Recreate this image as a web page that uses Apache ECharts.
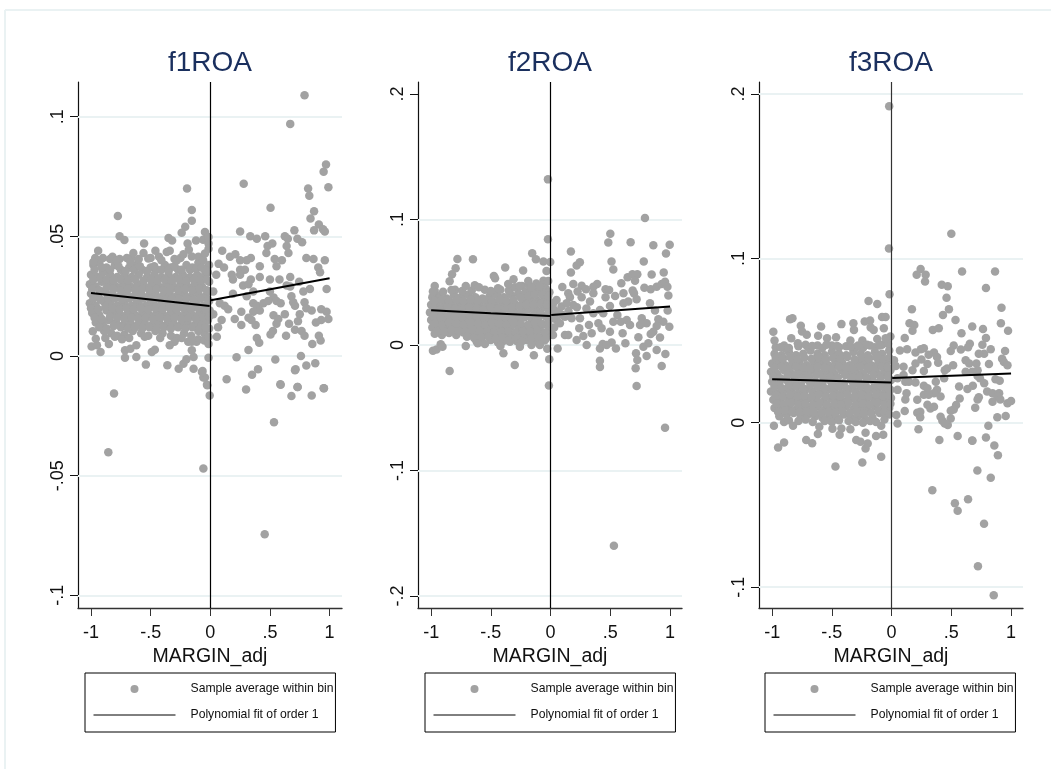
<!DOCTYPE html>
<html><head><meta charset="utf-8">
<style>html,body{margin:0;padding:0;background:#fff}#c{width:1051px;height:769px}</style>
<script src="https://cdn.jsdelivr.net/npm/echarts@6/dist/echarts.min.js"></script>
</head><body><div id="c"></div>
<script>
const titles=['f1ROA','f2ROA','f3ROA'];
const xTicks=[-1,-.5,0,.5,1];
const f1Ticks=[-.1,-.05,0,.05,.1];
const f2Ticks=[-.2,-.1,0,.1,.2];
const f3Ticks=[-.1,0,.1,.2];
const f1Grid=[-.1,-.05,0,.05,.1];
const f2Grid=[-.2,-.1,0,.1];
const f3Grid=[-.1,0,.1,.2];
const f1Fit=[[-1,.0263],[-.005,.0209],[null,null],[.005,.0233],[1,.0325]];
const f2Fit=[[-1,.0277],[-.5,.0253],[-.005,.0231],[null,null],[.005,.0239],[1,.0306]];
const f3Fit=[[-1,.0265],[-.005,.0245],[null,null],[.005,.0272],[1,.03]];

const f1Blob=[
[-.98,.038],[-.93,.039],[-.87,.037],[-.8,.038],[-.75,.036],[-.68,.037],[-.62,.038],[-.57,.036],[-.5,.037],[-.45,.036],[-.38,.038],[-.33,.037],[-.27,.036],[-.2,.038],[-.15,.037],[-.1,.039],[-.05,.036],[-.01,.038],
[-1,.034],[-.95,.033],[-.9,.035],[-.84,.034],[-.78,.033],[-.72,.034],[-.66,.033],[-.6,.034],[-.53,.033],[-.47,.034],[-.41,.033],[-.35,.034],[-.29,.033],[-.23,.034],[-.17,.033],[-.11,.034],[-.06,.033],[-.02,.035],
[-1.01,.03],[-.96,.029],[-.91,.031],[-.85,.03],[-.79,.029],[-.73,.03],[-.67,.029],[-.61,.03],[-.55,.029],[-.49,.03],[-.43,.029],[-.37,.03],[-.31,.029],[-.25,.03],[-.19,.029],[-.13,.03],[-.07,.029],[-.01,.031],
[-1,.026],[-.94,.025],[-.88,.027],[-.82,.026],[-.76,.025],[-.7,.026],[-.64,.025],[-.58,.026],[-.52,.025],[-.46,.026],[-.4,.025],[-.34,.026],[-.28,.025],[-.22,.026],[-.16,.025],[-.1,.026],[-.04,.025],[-.005,.027],
[-1.01,.022],[-.96,.021],[-.9,.023],[-.84,.022],[-.78,.021],[-.72,.022],[-.66,.021],[-.6,.022],[-.54,.021],[-.48,.022],[-.42,.021],[-.36,.022],[-.3,.021],[-.24,.022],[-.18,.021],[-.12,.022],[-.06,.021],[-.01,.023],
[-.99,.018],[-.93,.017],[-.87,.019],[-.81,.018],[-.75,.017],[-.69,.018],[-.63,.017],[-.57,.018],[-.51,.017],[-.45,.018],[-.39,.017],[-.33,.018],[-.27,.017],[-.21,.018],[-.15,.017],[-.09,.018],[-.03,.017],[-.005,.019],
[-.96,.014],[-.9,.013],[-.85,.015],[-.79,.014],[-.73,.013],[-.67,.014],[-.61,.013],[-.55,.014],[-.49,.013],[-.43,.014],[-.37,.013],[-.31,.014],[-.25,.013],[-.19,.014],[-.13,.013],[-.07,.014],[-.02,.015],
[-.89,.0105],[-.83,.0095],[-.78,.0085],[-.72,.009],[-.65,.0105],[-.58,.0095],[-.52,.0085],[-.46,.0105],[-.4,.0095],[-.33,.0085],[-.28,.0075],[-.22,.0095],[-.16,.0085],[-.1,.0105],[-.05,.0095],[-.01,.0115]
];
const f1Fill=[
[-.97,.036],[-.91,.037],[-.84,.036],[-.77,.0375],[-.71,.0355],[-.64,.036],[-.59,.0375],[-.53,.0355],[-.47,.0375],[-.41,.036],[-.35,.0355],[-.3,.0375],[-.24,.036],[-.17,.036],[-.12,.0365],[-.07,.037],[-.03,.0355],
[-.98,.032],[-.92,.0325],[-.87,.032],[-.81,.0315],[-.75,.032],[-.69,.0315],[-.63,.032],[-.56,.0315],[-.5,.032],[-.44,.0315],[-.38,.032],[-.32,.0315],[-.26,.032],[-.2,.0315],[-.14,.032],[-.08,.0315],[-.03,.032],
[-.99,.028],[-.93,.0275],[-.87,.0285],[-.81,.028],[-.75,.0275],[-.69,.028],[-.63,.0275],[-.57,.028],[-.51,.0275],[-.45,.028],[-.39,.0275],[-.33,.028],[-.27,.0275],[-.21,.028],[-.15,.0275],[-.09,.028],[-.03,.0275],
[-.98,.024],[-.92,.0235],[-.86,.0245],[-.8,.024],[-.74,.0235],[-.68,.024],[-.62,.0235],[-.56,.024],[-.5,.0235],[-.44,.024],[-.38,.0235],[-.32,.024],[-.26,.0235],[-.2,.024],[-.14,.0235],[-.08,.024],[-.02,.0235],
[-1,.02],[-.94,.0195],[-.88,.0205],[-.82,.02],[-.76,.0195],[-.7,.02],[-.64,.0195],[-.58,.02],[-.52,.0195],[-.46,.02],[-.4,.0195],[-.34,.02],[-.28,.0195],[-.22,.02],[-.16,.0195],[-.1,.02],[-.04,.0195],
[-.97,.016],[-.91,.0155],[-.84,.0165],[-.78,.016],[-.72,.0155],[-.66,.016],[-.6,.0155],[-.54,.016],[-.48,.0155],[-.42,.016],[-.36,.0155],[-.3,.016],[-.24,.0155],[-.18,.016],[-.12,.0155],[-.06,.016],[-.01,.0165],
[-.93,.012],[-.87,.0115],[-.81,.0125],[-.75,.012],[-.69,.0115],[-.63,.012],[-.57,.0115],[-.51,.012],[-.45,.0115],[-.39,.012],[-.33,.0115],[-.27,.012],[-.21,.0115],[-.15,.012],[-.09,.0115],[-.04,.012],
[-.9,.041],[-.82,.0415],[-.76,.0405],[-.66,.041],[-.6,.0405],[-.5,.041],[-.43,.0415],[-.3,.0405],[-.25,.041],[-.1,.0415],
[-.88,.0075],[-.8,.008],[-.74,.007],[-.68,.0075],[-.55,.008],[-.42,.0075],[-.3,.006],[-.24,.0075],[-.1,.007],[-.05,.0065]
];
const f1Edge=[
[-.94,.044],[-.965,.041],[-.84,.0405],[-.785,.04],[-.7,.041],[-.645,.043],[-.555,.047],[-.56,.043],[-.46,.044],[-.775,.0585],[-.76,.05],[-.72,.0485],[-.195,.07],[-.155,.061],[-.155,.0565],[-.21,.054],[-.24,.0515],[-.35,.0493],[-.32,.0483],[-.19,.047],[-.12,.0483],[-.045,.0518],[-.06,.0486],[-.015,.0497],[-.015,.047],[-.365,.0435],[-.34,.044],[-.225,.0425],[-.18,.0444],[-.045,.0428],[-.015,.0448],[-.52,.0407],[-.41,.04],[-.28,.04],[-.155,.0416],[-.06,.04],[-.67,.0393],[-.98,.0393],
[-.995,.004],[-.92,.0017],[-.95,.0045],[-.85,.005],[-.96,.0072],[-.985,.0103],[-.715,.0024],[-.715,-.0007],[-.62,-.0004],[-.62,.0045],[-.67,.003],[-.49,.0017],[-.465,.0026],[-.34,.0045],[-.54,-.0036],[-.36,-.0039],[-.265,-.0053],[-.225,-.0032],[-.2,-.0014],[-.14,-.0004],[-.14,-.0053],[-.155,.0024],[-.015,-.0007],[-.065,-.0063],[-.045,-.009],[-.025,-.0122],[-.185,.006],[-.115,.006],[-.015,.005],[-.155,.006],[-.015,.008],
[-.807,-.0157],[-.855,-.0402],[-.058,-.047],[-.005,-.0165],[-.028,-.012],[-.058,-.009],[-.07,-.0067]
];
const f1Right=[
[.79,.109],[.67,.097],[.97,.08],[.95,.077],[.28,.072],[.99,.0705],[.82,.07],[.83,.067],[.505,.062],[.87,.0605],[.84,.0575],[.91,.055],[.945,.053],[.96,.052],[.87,.0525],[.705,.0525],[.25,.052],[.335,.05],[.39,.049],[.46,.05],[.625,.05],[.65,.049],[.73,.049],[.77,.0475],[.52,.047],[.48,.046],[.64,.046],[.47,.043],[.655,.043],
[.1,.044],[.165,.0415],[.21,.0425],[.25,.04],[.34,.041],[.305,.04],[.54,.0405],[.6,.04],[.555,.0375],[.805,.041],[.865,.0405],[.96,.04],[.07,.0385],[.115,.037],[.415,.0375],[.905,.037],[.92,.035],[.25,.036],[.29,.036],
[.05,.034],[.18,.034],[.25,.034],[.415,.033],[.5,.032],[.58,.032],[.67,.033],[.34,.032],[.19,.032],[.275,.0295],[.32,.03],[.745,.031],[.835,.028],[.78,.027],[.975,.028],[.67,.029],[.64,.0295],
[.025,.027],[.19,.026],[.36,.027],[.305,.025],[.5,.027],[.53,.0245],[.555,.023],[.59,.022],[.68,.025],[.695,.0225],[.79,.0225],[.71,.021],
[.08,.022],[.12,.021],[.15,.0195],[.205,.0155],[.26,.0185],[.26,.013],[.32,.016],[.36,.022],[.39,.021],[.445,.022],[.485,.023],[.36,.0185],[.415,.019],[.38,.013],[.345,.015],
[.53,.017],[.625,.0175],[.57,.0155],[.66,.0135],[.735,.0145],[.75,.0175],[.805,.02],[.85,.019],[.93,.0195],[.975,.0185],[.99,.0155],[.93,.015],[.885,.014],[.555,.0135],[.525,.0105],[.505,.009],[.635,.0085],[.71,.011],[.765,.0105],[.79,.0085],[.91,.0085],[.925,.0065],[.855,.005],[.39,.0075],[.41,.0055],[.32,.0025],[.055,.008],[.065,.012],[.025,.0175],[.095,.015],
[.22,-.0005],[.545,-.0015],[.76,0],[.805,-.004],[.88,-.003],[.715,-.0055],[.71,-.006],[.4,-.0055],[.35,-.0078],[.137,-.0097],[.59,-.012],[.73,-.013],[.95,-.0135],[.3,-.014],[.587,-.0118],[.733,-.013],[.68,-.0167],[.85,-.0165],[.953,-.0135],
[.534,-.0277],[.456,-.0745]
];

const f2Blob=[
[-.99,.038],[-.93,.039],[-.87,.037],[-.81,.04],[-.75,.038],[-.69,.04],[-.63,.038],[-.57,.037],[-.51,.039],[-.45,.04],[-.39,.038],[-.33,.04],[-.27,.041],[-.21,.042],[-.15,.043],[-.09,.044],[-.04,.045],[-.01,.042],
[-1,.032],[-.95,.031],[-.89,.033],[-.83,.032],[-.77,.031],[-.71,.033],[-.65,.032],[-.59,.031],[-.53,.033],[-.47,.032],[-.41,.031],[-.35,.033],[-.29,.032],[-.23,.035],[-.17,.036],[-.11,.035],[-.05,.037],[-.005,.034],
[-1.01,.026],[-.96,.025],[-.9,.027],[-.84,.026],[-.78,.025],[-.72,.027],[-.66,.026],[-.6,.025],[-.54,.027],[-.48,.026],[-.42,.025],[-.36,.027],[-.3,.026],[-.24,.028],[-.18,.029],[-.12,.028],[-.06,.03],[-.01,.028],
[-1,.02],[-.94,.019],[-.88,.021],[-.82,.02],[-.76,.019],[-.7,.021],[-.64,.02],[-.58,.019],[-.52,.021],[-.46,.02],[-.4,.019],[-.34,.021],[-.28,.02],[-.22,.022],[-.16,.021],[-.1,.022],[-.04,.023],[-.005,.021],
[-.99,.014],[-.93,.013],[-.87,.015],[-.81,.014],[-.75,.013],[-.69,.015],[-.63,.014],[-.57,.013],[-.51,.015],[-.45,.014],[-.39,.013],[-.33,.015],[-.27,.014],[-.21,.013],[-.15,.015],[-.09,.014],[-.03,.016],[-.005,.012],
[-.97,.009],[-.91,.008],[-.85,.0095],[-.79,.008],[-.73,.01],[-.67,.009],[-.61,.007],[-.55,.009],[-.49,.007],[-.43,.006],[-.37,.008],[-.31,.006],[-.25,.008],[-.19,.007],[-.13,.009],[-.07,.006],[-.02,.008],
[-.62,.003],[-.58,.0035],[-.5,.004],[-.44,.002],[-.4,.003],[-.34,.0025],[-.28,.003],[-.2,.004],[-.15,.002],[-.1,.003],[-.05,.0035]
];
const f2Fill=[
[-.97,.035],[-.91,.036],[-.85,.035],[-.79,.036],[-.73,.035],[-.67,.036],[-.61,.035],[-.55,.036],[-.49,.035],[-.43,.036],[-.37,.035],[-.31,.036],[-.25,.038],[-.19,.039],[-.13,.04],[-.07,.04],[-.02,.039],
[-.98,.029],[-.92,.028],[-.86,.03],[-.8,.029],[-.74,.028],[-.68,.03],[-.62,.029],[-.56,.028],[-.5,.03],[-.44,.029],[-.38,.028],[-.32,.03],[-.26,.031],[-.2,.032],[-.14,.032],[-.08,.033],[-.03,.032],
[-.98,.023],[-.92,.022],[-.86,.024],[-.8,.023],[-.74,.022],[-.68,.024],[-.62,.023],[-.56,.022],[-.5,.024],[-.44,.023],[-.38,.022],[-.32,.024],[-.26,.023],[-.2,.025],[-.14,.024],[-.08,.025],[-.02,.025],
[-.97,.017],[-.91,.016],[-.85,.018],[-.79,.017],[-.73,.016],[-.67,.018],[-.61,.017],[-.55,.016],[-.49,.018],[-.43,.017],[-.37,.016],[-.31,.018],[-.25,.017],[-.19,.016],[-.13,.018],[-.07,.017],[-.02,.018],
[-.95,.011],[-.89,.0105],[-.83,.012],[-.77,.011],[-.71,.0105],[-.65,.012],[-.59,.0105],[-.53,.011],[-.47,.01],[-.41,.0105],[-.35,.011],[-.29,.01],[-.23,.011],[-.17,.0105],[-.11,.011],[-.05,.01],
[-.7,.0065],[-.64,.0055],[-.58,.006],[-.52,.0065],[-.46,.005],[-.4,.0055],[-.34,.005],[-.28,.0055],[-.22,.005],[-.16,.0055],[-.1,.0055],[-.04,.005],
[-.97,.043],[-.9,.0425],[-.8,.044],[-.74,.043],[-.66,.0435],[-.55,.044],[-.5,.043],[-.42,.044],[-.35,.0435],[-.3,.046],[-.24,.047],[-.18,.0475],[-.12,.0465],[-.06,.048]
];
const f2Edge=[
[-.022,.132],[-.022,.0843],[-.154,.0731],[-.123,.0684],[-.06,.0665],[-.003,.0662],[-.034,.059],[-.06,.0513],[-.02,.051],[-.78,.0686],[-.795,.0612],[-.65,.0684],[-.825,.0564],[-.845,.0508],[-.475,.055],[-.465,.0532],[-.38,.0617],[-.23,.0593],[-.31,.0524],[-.355,.0487],[-.97,.0471],[-.71,.0471],[-.635,.0476],[-.6,.046],[-.187,.0511],[-.44,.0452],[-.83,.0439],[-.985,.0426],[-.12,.049],[-.26,.047],[-.09,.047],[-.16,.046],
[-.985,-.0045],[-.955,-.0035],[-.92,.0005],[-.905,-.0013],[-.845,-.0207],[-.71,-.0008],[-.61,.0013],[-.55,.0008],[-.395,-.0066],[-.42,-.0008],[-.3,-.016],[-.257,-.0013],[-.16,0],[-.14,-.0082],[-.09,0],[-.028,-.0029],[-.011,-.0114],[-.014,-.0322],[-.243,.0027],[-.355,.0035]
];
const f2Right=[
[.17,.0745],[.245,.066],[.218,.0633],[.17,.0577],[.5,.0886],[.483,.0816],[.67,.0819],[.79,.1013],[.86,.0795],[.997,.0798],[.966,.0729],[.51,.0665],[.525,.0601],[.78,.0665],[.947,.0577],[.846,.0561],[.645,.054],[.685,.0564],[.726,.0564],[.707,.0513],[.592,.0492],[.39,.0487],[.358,.0465],[.19,.0487],[.26,.0473],[.098,.0463],[.296,.0444],[.226,.0426],[.148,.0412],[.46,.0444],[.49,.0439],[.61,.0412],[.54,.0391],[.687,.0434],[.698,.0412],[.785,.0457],[.838,.0444],[.888,.0465],[.93,.0487],[.958,.0505],[.978,.0465],[.986,.0394],[.46,.038],[.358,.0412],[.162,.038],[.26,.038],[.33,.0346],[.65,.0346],[.72,.0364],[.832,.0332],[.497,.0311],[.61,.0332],[.19,.0319],[.092,.0306],[.134,.0332],[.05,.0359],[.022,.0332],
[.12,.0226],[.05,.02],[.078,.0173],[.176,.0213],[.246,.0213],[.358,.0253],[.413,.0279],[.441,.0253],[.559,.0239],[.587,.0186],[.525,.0186],[.637,.02],[.665,.016],[.763,.0213],[.804,.0173],[.749,.016],[.874,.0274],[.98,.0274],[.902,.0205],[.944,.0186],[.888,.0152],[.994,.0146],[.86,.0106],[.838,.0088],[.916,.0059],[.735,.0061],[.603,.0093],[.626,.0013],[.511,.0019],[.547,-.0027],[.302,0],[.274,.0072],[.218,.004],[.24,.0133],[.321,.016],[.4,.0173],[.427,.0133],[.344,.0093],[.497,.0106],[.12,.008],[.148,.008],[.059,-.0027],[.413,-.0027],[.436,.0008],[.469,0],[.777,-.0013],[.818,.0013],[.888,-.004],[.961,-.0072],[.715,-.0066],[.804,-.0088],[.726,-.012],[.712,-.0186],[.93,-.0168],[.413,-.0125],[.413,-.0176],[.72,-.0327],[.958,-.066],[.53,-.16],
[.03,.028],[.07,.026],[.02,.022],[.1,.024],[.15,.027],[.22,.03],[.3,.029],[.03,.014],[.02,.008]
];

const f3Blob=[
[-.98,.042],[-.92,.041],[-.86,.043],[-.8,.041],[-.74,.042],[-.68,.044],[-.62,.042],[-.56,.041],[-.5,.043],[-.44,.042],[-.38,.041],[-.32,.043],[-.26,.042],[-.2,.041],[-.14,.043],[-.08,.042],[-.02,.044],
[-1,.036],[-.95,.037],[-.89,.035],[-.83,.037],[-.77,.036],[-.71,.035],[-.65,.037],[-.59,.036],[-.53,.035],[-.47,.037],[-.41,.036],[-.35,.035],[-.29,.037],[-.23,.036],[-.17,.035],[-.11,.037],[-.05,.036],[-.005,.038],
[-1.01,.031],[-.96,.03],[-.9,.032],[-.84,.03],[-.78,.031],[-.72,.03],[-.66,.032],[-.6,.03],[-.54,.031],[-.48,.03],[-.42,.032],[-.36,.03],[-.3,.031],[-.24,.03],[-.18,.032],[-.12,.03],[-.06,.031],[-.01,.032],
[-1,.025],[-.94,.024],[-.88,.026],[-.82,.025],[-.76,.024],[-.7,.026],[-.64,.025],[-.58,.024],[-.52,.026],[-.46,.025],[-.4,.024],[-.34,.026],[-.28,.025],[-.22,.024],[-.16,.026],[-.1,.025],[-.04,.024],[-.005,.026],
[-1.01,.019],[-.96,.018],[-.9,.02],[-.84,.019],[-.78,.018],[-.72,.02],[-.66,.019],[-.6,.018],[-.54,.02],[-.48,.019],[-.42,.018],[-.36,.02],[-.3,.019],[-.24,.018],[-.18,.02],[-.12,.019],[-.06,.018],[-.01,.02],
[-.99,.014],[-.93,.013],[-.87,.015],[-.81,.014],[-.75,.013],[-.69,.015],[-.63,.014],[-.57,.013],[-.51,.015],[-.45,.014],[-.39,.013],[-.33,.015],[-.27,.014],[-.21,.013],[-.15,.015],[-.09,.014],[-.03,.013],[-.005,.015],
[-.98,.009],[-.92,.008],[-.86,.01],[-.8,.008],[-.74,.009],[-.68,.008],[-.62,.01],[-.56,.008],[-.5,.009],[-.44,.008],[-.38,.01],[-.32,.008],[-.26,.009],[-.2,.008],[-.14,.01],[-.08,.008],[-.02,.009],
[-.94,.004],[-.88,.005],[-.82,.006],[-.76,.004],[-.7,.005],[-.64,.004],[-.58,.003],[-.52,.004],[-.46,.003],[-.4,.005],[-.34,.003],[-.28,.004],[-.22,.002],[-.16,.003],[-.1,.006],[-.05,.005]
];
const f3Fill=[
[-.97,.0395],[-.91,.039],[-.85,.04],[-.79,.0385],[-.73,.0395],[-.67,.039],[-.61,.04],[-.55,.0385],[-.49,.0395],[-.43,.039],[-.37,.04],[-.31,.0385],[-.25,.0395],[-.19,.039],[-.13,.04],[-.07,.0385],[-.02,.0395],
[-.98,.0335],[-.92,.034],[-.86,.033],[-.8,.034],[-.74,.0335],[-.68,.033],[-.62,.034],[-.56,.0335],[-.5,.033],[-.44,.034],[-.38,.0335],[-.32,.033],[-.26,.034],[-.2,.0335],[-.14,.033],[-.08,.034],[-.03,.0335],
[-.99,.028],[-.93,.027],[-.87,.029],[-.81,.028],[-.75,.027],[-.69,.028],[-.63,.029],[-.57,.027],[-.51,.028],[-.45,.0275],[-.39,.029],[-.33,.0275],[-.27,.028],[-.21,.0275],[-.15,.029],[-.09,.0275],[-.03,.028],
[-.98,.022],[-.92,.021],[-.86,.023],[-.8,.022],[-.74,.021],[-.68,.023],[-.62,.022],[-.56,.021],[-.5,.023],[-.44,.022],[-.38,.021],[-.32,.023],[-.26,.022],[-.2,.021],[-.14,.023],[-.08,.022],[-.03,.021],
[-.97,.0165],[-.91,.016],[-.85,.017],[-.79,.016],[-.73,.0165],[-.67,.016],[-.61,.017],[-.55,.016],[-.49,.0165],[-.43,.016],[-.37,.017],[-.31,.016],[-.25,.0165],[-.19,.016],[-.13,.017],[-.07,.016],[-.02,.0165],
[-.96,.0115],[-.9,.011],[-.84,.012],[-.78,.011],[-.72,.0115],[-.66,.011],[-.6,.012],[-.54,.011],[-.48,.0115],[-.42,.011],[-.36,.012],[-.3,.011],[-.24,.0115],[-.18,.011],[-.12,.012],[-.06,.011],[-.01,.0115],
[-.95,.0065],[-.89,.0075],[-.83,.0065],[-.77,.0065],[-.71,.007],[-.65,.0065],[-.59,.006],[-.53,.0065],[-.47,.006],[-.41,.007],[-.35,.006],[-.29,.0065],[-.23,.0055],[-.17,.006],[-.11,.007],[-.06,.0065],[-.02,.005],
[-.97,.046],[-.9,.047],[-.86,.0455],[-.78,.0465],[-.7,.046],[-.62,.047],[-.58,.0455],[-.5,.047],[-.44,.046],[-.38,.0465],[-.3,.046],[-.24,.0455],[-.18,.047],[-.14,.046],[-.08,.0475],[-.03,.048],
[-.9,.0005],[-.86,.0015],[-.78,.001],[-.72,.002],[-.66,.0005],[-.56,.001],[-.5,.0005],[-.44,.0015],[-.36,.001],[-.3,.0005],[-.24,0],[-.18,.001],[-.13,.0005],[-.06,.002]
];
const f3Edge=[
[-.02,.1925],[-.022,.106],[-.017,.0782],[-.193,.074],[-.12,.0723],[-.08,.0644],[-.05,.0644],[-.18,.0622],[-.225,.0616],[-.175,.058],[-.065,.0575],[-.15,.0565],[-.32,.0606],[-.315,.0565],[-.42,.06],[-.59,.0585],[-.76,.059],[-.85,.063],[-.83,.0636],[-.75,.0555],[-.71,.0535],[-.99,.0553],[-.98,.05],[-.84,.0514],[-.615,.053],[-.54,.0514],[-.465,.052],[-.345,.05],[-.245,.05],[-.12,.051],[-.01,.0524],[-.05,.0514],[-.785,.0484],[-.72,.0474],[-.665,.0467],[-.545,.0474],[-.455,.0467],[-.34,.0463],[-.205,.0474],[-.89,.0453],[-.93,.046],[-.1,.047],[-.28,.047],
[-.95,-.015],[-.9,-.012],[-.715,-.0105],[-.665,-.0124],[-.47,-.0266],[-.245,-.0242],[-.087,-.0207],[-.218,-.0156],[-.296,-.0105],[-.26,-.0116],[-.2,-.0126],[-.13,-.008],[-.07,-.0073],[-.617,-.0069],[-.435,-.0073],[-.345,-.0039],[-.605,-.0024],[-.495,-.0037],[-.985,-.0018],[-.825,-.0018],[-.087,-.0018],[-.218,-.0061],[-.42,-.0035]
];
const f3Right=[
[.5,.115],[.59,.092],[.866,.092],[.243,.0935],[.21,.09],[.285,.09],[.28,.086],[.42,.084],[.47,.083],[.79,.082],[.46,.076],[.48,.069],[.92,.07],[.17,.069],[.43,.0655],[.535,.0625],[.15,.0605],[.19,.0595],[.175,.056],[.915,.0605],[.675,.0585],[.765,.057],[.975,.056],[.345,.0565],[.395,.0575],[.585,.0545],
[.11,.0515],[.79,.0515],[.76,.0475],[.655,.048],[.52,.047],[.64,.046],[.58,.0445],[.495,.0437],[.83,.0447],[.95,.0437],[.775,.042],[.73,.042],[.07,.044],[.13,.0447],[.2,.0427],[.245,.0447],[.27,.0453],[.355,.0427],[.31,.0413],[.38,.04],[.25,.0385],[.2,.036],[.3,.0357],[.39,.0365],[.62,.038],[.65,.036],[.71,.036],[.815,.0357],[.925,.039],[.94,.037],[.97,.035],
[.02,.038],[.035,.0345],[.1,.034],[.175,.032],[.27,.0315],[.465,.033],[.515,.035],[.445,.032],[.62,.031],[.72,.032],[.675,.031],[.1,.029],[.05,.027],[.115,.025],[.145,.025],[.2,.0245],[.27,.0225],[.37,.025],[.44,.027],[.72,.0285],[.74,.027],[.775,.024],[.87,.0265],[.905,.0255],
[.565,.022],[.635,.0205],[.68,.0225],[.3,.021],[.38,.02],[.355,.018],[.27,.017],[.31,.017],[.41,.016],[.125,.018],[.115,.0142],[.05,.02],[.215,.014],[.57,.0148],[.73,.0155],[.72,.0142],[.8,.019],[.9,.018],[.845,.018],[.885,.016],[.91,.0142],[.845,.0128],[.97,.0118],[1,.0132],[.3,.011],[.325,.0087],[.355,.0097],[.54,.0108],[.52,.0081],[.495,.0073],[.7,.0091],
[.11,.0071],[.04,.0047],[.215,.0061],[.24,.0067],[.24,.0033],[.41,.0037],[.425,.0012],[.495,.0026],[.47,-.0014],[.445,-.0004],[.885,.0033],[.955,.0041],[.05,-.0004],[.81,-.0018],[.225,-.004],[.4,-.0105],[.553,-.008],[.675,-.0108],[.79,-.009],[.676,-.011],[.86,-.0138],[.89,-.0197],[.341,-.041],[.53,-.049],[.553,-.0535],[.64,-.0465],[.718,-.029],[.83,-.0335],[.774,-.0615],[.723,-.0873],[.855,-.105]
];

const points=[[...f1Blob,...f1Fill,...f1Edge,...f1Right],[...f2Blob,...f2Fill,...f2Edge,...f2Right],[...f3Blob,...f3Fill,...f3Edge,...f3Right]];
const fits=[f1Fit,f2Fit,f3Fit];
const yTicks=[f1Ticks,f2Ticks,f3Ticks];
const gridVals=[f1Grid,f2Grid,f3Grid];
const yRange=[[-.1053,.1145],[-.2096,.2096],[-.1127,.2073]];
const xRange=[[-1.109,1.104],[-1.11,1.1],[-1.11,1.1]];
const lefts=[78,418,759];
const legendLefts=[85,425,765];
const fmt=v=>{if(v===0)return '0';return String(+v.toFixed(2)).replace('0.','.');};
const font='"Liberation Sans", Arial, sans-serif';
const opt={animation:false,backgroundColor:'#fff',textStyle:{fontFamily:font},
 title:[],grid:[],xAxis:[],yAxis:[],series:[],legend:[],
 graphic:[
  {type:'line',z:-1,shape:{x1:5,y1:10,x2:5,y2:769},style:{stroke:'#eaf2f3',lineWidth:2}},
  {type:'line',z:-1,shape:{x1:5,y1:10,x2:1051,y2:10},style:{stroke:'#eaf2f3',lineWidth:2}}]};
titles.forEach((t,i)=>{
 opt.title.push({text:t,left:lefts[i]+132,top:49,padding:0,textAlign:'center',textStyle:{fontFamily:font,fontWeight:'normal',fontSize:28,color:'#1a2f5e'}});
 opt.grid.push({left:lefts[i],top:82,width:264,height:526});
 opt.xAxis.push({gridIndex:i,type:'value',min:xRange[i][0],max:xRange[i][1],name:'MARGIN_adj',nameLocation:'middle',nameGap:32,
  nameTextStyle:{fontFamily:font,fontSize:19.5,color:'#111'},splitLine:{show:false},
  axisLine:{onZero:false,lineStyle:{color:'#333',width:1.4}},
  axisTick:{length:8,customValues:xTicks,lineStyle:{color:'#333',width:1}},
  axisLabel:{customValues:xTicks,formatter:fmt,fontSize:18,color:'#111',margin:16,fontFamily:font}});
 opt.yAxis.push({gridIndex:i,type:'value',min:yRange[i][0],max:yRange[i][1],splitLine:{show:false},
  axisLine:{onZero:false,lineStyle:{color:'#111',width:1.2}},
  axisTick:{length:8,customValues:yTicks[i],lineStyle:{color:'#111',width:1}},
  axisLabel:{customValues:yTicks[i],formatter:fmt,rotate:90,fontSize:18,color:'#111',margin:11,fontFamily:font,align:'center',verticalAlign:'bottom'}});
 opt.series.push({name:'Sample average within bin',type:'scatter',xAxisIndex:i,yAxisIndex:i,symbolSize:8.5,itemStyle:{color:'#a2a2a2',opacity:1},data:points[i],z:3,
  markLine:{silent:true,symbol:'none',label:{show:false},animation:false,z:1,
   data:gridVals[i].map(v=>({yAxis:v,lineStyle:{color:'#eaf2f3',width:2,type:'solid'}}))}});
 opt.series.push({name:'Polynomial fit of order 1',type:'line',xAxisIndex:i,yAxisIndex:i,showSymbol:false,symbol:'none',connectNulls:false,
  lineStyle:{color:'#000',width:2},itemStyle:{color:'#000'},data:fits[i],z:5,
  markLine:{silent:true,symbol:'none',label:{show:false},animation:false,z:4,
   data:[{xAxis:0,lineStyle:{color:i===2?'#333':'#000',width:1.2,type:'solid'}}]}});
 opt.legend.push({left:legendLefts[i],top:673,orient:'vertical',selectedMode:false,borderColor:'#000',borderWidth:1,borderRadius:0,
  padding:[10,2,11,8],itemWidth:82,itemHeight:8,itemGap:14,
  textStyle:{fontFamily:font,fontSize:12.2,color:'#111',padding:[0,0,0,10]},
  data:[{name:'Sample average within bin',icon:'circle',itemStyle:{color:'#a2a2a2'}},
        {name:'Polynomial fit of order 1',itemStyle:{opacity:0},lineStyle:{width:1,color:'#000'}}]});
});
const chart=echarts.init(document.getElementById('c'),null,{renderer:'canvas'});
chart.setOption(opt);
</script></body></html>
